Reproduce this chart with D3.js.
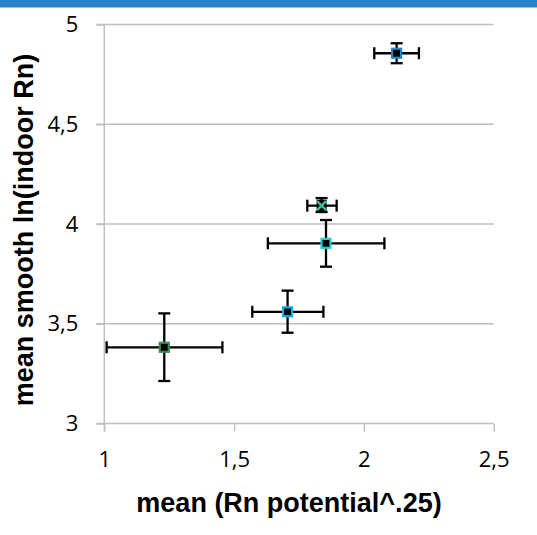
<!DOCTYPE html>
<html>
<head>
<meta charset="utf-8">
<script src="https://cdn.jsdelivr.net/npm/d3@7"></script>
<style>
  html, body { margin: 0; padding: 0; background: #fff; }
  svg { display: block; }
</style>
</head>
<body>
<svg id="chart" width="537" height="535"></svg>
<script>
// ---- data ----
const pointNames = ["p1", "p2", "p3", "p4", "p5"];
const xValues = [1.231, 1.706, 1.854, 1.837, 2.126];
const yValues = [3.382, 3.560, 3.903, 4.092, 4.856];
const xLow  = [1.009, 1.570, 1.630, 1.782, 2.040];
const xHigh = [1.455, 1.844, 2.079, 1.895, 2.212];
const yLow  = [3.213, 3.455, 3.786, 4.060, 4.806];
const yHigh = [3.552, 3.666, 4.020, 4.130, 4.906];
const markerShapes = ["square", "square", "square", "x", "square"];
const markerColors = ["#3E8853", "#1CADE4", "#27CED7", "#42BA97", "#2683C6"];
const xTickValues = [1, 1.5, 2, 2.5];
const xTickLabels = ["1", "1,5", "2", "2,5"];
const yTickValues = [3, 3.5, 4, 4.5, 5];
const yTickLabels = ["3", "3,5", "4", "4,5", "5"];
const xTitle = "mean (Rn potential^.25)";
const yTitle = "mean smooth ln(indoor Rn)";

const points = pointNames.map((n, i) => ({
  name: n, x: xValues[i], y: yValues[i],
  xl: xLow[i], xh: xHigh[i], yl: yLow[i], yh: yHigh[i],
  shape: markerShapes[i], color: markerColors[i]
}));

const svg = d3.select("#chart");
const W = 537, H = 535;

// top band
svg.append("rect").attr("x", 0).attr("y", 0).attr("width", W).attr("height", 7.5)
  .attr("fill", "#2683C6");

const x = d3.scaleLinear().domain([1, 2.5]).range([104.3, 493.7]);
const y = d3.scaleLinear().domain([3, 5]).range([423.5, 24.5]);

const gridColor = "#c0c0c0";

// horizontal gridlines
svg.append("g").selectAll("line").data(yTickValues.filter(v => v !== 3)).join("line")
  .attr("x1", x(1) - 8).attr("x2", x(2.5))
  .attr("y1", d => y(d)).attr("y2", d => y(d))
  .attr("stroke", gridColor).attr("stroke-width", 1.5);

// y axis
const yAxis = d3.axisLeft(y).tickValues(yTickValues)
  .tickFormat((d, i) => yTickLabels[i]).tickSize(8).tickPadding(18);
const gy = svg.append("g").attr("transform", `translate(${x(1)},0)`).call(yAxis);
gy.select(".domain").attr("stroke", gridColor).attr("stroke-width", 1.5)
  .attr("d", `M0,${y(5)}V${y(3)+8}`);
gy.selectAll(".tick line").attr("stroke", gridColor).attr("stroke-width", 1.5);
gy.selectAll(".tick text").attr("font-family", "Open Sans, Liberation Sans, sans-serif")
  .attr("font-size", 22).attr("fill", "#000");

// x axis
const xAxis = d3.axisBottom(x).tickValues(xTickValues)
  .tickFormat((d, i) => xTickLabels[i]).tickSize(8).tickPadding(20);
const gx = svg.append("g").attr("transform", `translate(0,${y(3)})`).call(xAxis);
gx.select(".domain").attr("stroke", gridColor).attr("stroke-width", 1.5)
  .attr("d", `M${x(1)-8},0H${x(2.5)}`);
gx.selectAll(".tick line").attr("stroke", gridColor).attr("stroke-width", 1.5);
gx.selectAll(".tick text").attr("font-family", "Open Sans, Liberation Sans, sans-serif")
  .attr("font-size", 22).attr("fill", "#000");

// error bars
const eb = svg.append("g").attr("stroke", "#000").attr("stroke-width", 2.3).attr("fill", "none");
const cap = 6;
points.forEach(p => {
  eb.append("line").attr("x1", x(p.xl)).attr("x2", x(p.xh)).attr("y1", y(p.y)).attr("y2", y(p.y));
  eb.append("line").attr("x1", x(p.xl)).attr("x2", x(p.xl)).attr("y1", y(p.y) - cap).attr("y2", y(p.y) + cap);
  eb.append("line").attr("x1", x(p.xh)).attr("x2", x(p.xh)).attr("y1", y(p.y) - cap).attr("y2", y(p.y) + cap);
  eb.append("line").attr("x1", x(p.x)).attr("x2", x(p.x)).attr("y1", y(p.yl)).attr("y2", y(p.yh));
  eb.append("line").attr("x1", x(p.x) - cap).attr("x2", x(p.x) + cap).attr("y1", y(p.yl)).attr("y2", y(p.yl));
  eb.append("line").attr("x1", x(p.x) - cap).attr("x2", x(p.x) + cap).attr("y1", y(p.yh)).attr("y2", y(p.yh));
});

// markers
const mk = svg.append("g");
points.forEach(p => {
  const cx = x(p.x), cy = y(p.y);
  if (p.shape === "square") {
    mk.append("rect").attr("x", cx - 4.5).attr("y", cy - 4.5).attr("width", 9).attr("height", 9)
      .attr("fill", "#000").attr("stroke", p.color).attr("stroke-width", 2.2);
  } else {
    mk.append("rect").attr("x", cx - 5).attr("y", cy - 6).attr("width", 10).attr("height", 12)
      .attr("fill", "#000");
    mk.append("path").attr("d", `M${cx-4.5},${cy-4.5}L${cx+4.5},${cy+4.5}M${cx-4.5},${cy+4.5}L${cx+4.5},${cy-4.5}`)
      .attr("stroke", p.color).attr("stroke-width", 2.5);
  }
});

// titles
svg.append("text").attr("x", 289).attr("y", 512).attr("text-anchor", "middle")
  .attr("font-family", "Liberation Sans, Arial, sans-serif").attr("font-weight", "bold")
  .attr("font-size", 27).attr("fill", "#000").text(xTitle);
svg.append("text").attr("transform", "translate(33,230) rotate(-90)").attr("text-anchor", "middle")
  .attr("font-family", "Liberation Sans, Arial, sans-serif").attr("font-weight", "bold")
  .attr("font-size", 27).attr("fill", "#000").text(yTitle);
</script>
</body>
</html>
